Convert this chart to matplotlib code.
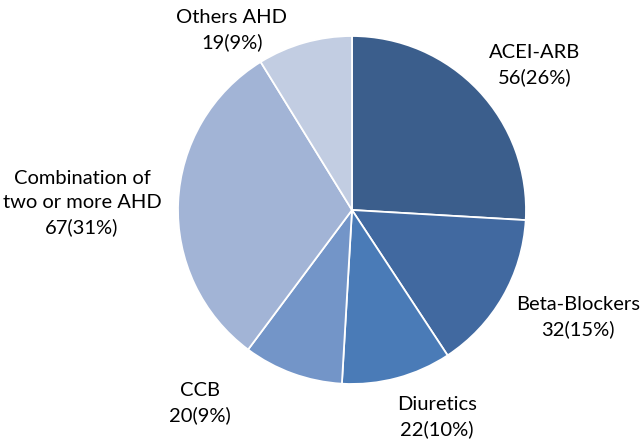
import matplotlib
matplotlib.use('Agg')
from matplotlib import pyplot as plt

# data
names = ['ACEI-ARB', 'Beta-Blockers', 'Diuretics', 'CCB',
         'Combination of\ntwo or more AHD', 'Others AHD']
counts = [56, 32, 22, 20, 67, 19]
percents = [26, 15, 10, 9, 31, 9]
colors = ['#3b5e8c', '#4169a0', '#4a7bb7', '#7395c8', '#a2b4d6', '#c2cde2']

# label centres (pie radius = 1)
label_pos = [(1.052, 0.833), (1.299, -0.615), (0.489, -1.19),
             (-0.874, -1.109), (-1.552, 0.040), (-0.690, 1.034)]

fig = plt.figure(figsize=(6.4, 4.4), dpi=100)
ax = fig.add_axes([0, 0, 1, 1])

ax.pie(counts, colors=colors, startangle=90, counterclock=False,
       radius=1.0, wedgeprops={'edgecolor': 'white', 'linewidth': 1.3})

for name, c, p, (x, y) in zip(names, counts, percents, label_pos):
  ax.text(x, y, '%s\n%d(%d%%)' % (name, c, p), ha='center', va='center',
          fontsize=14.5, family='Lato', linespacing=1.5, color='black')

ax.set_xlim(-352 / 174, 288 / 174)
ax.set_ylim(-230 / 174, 210 / 174)
ax.set_aspect('equal')
ax.axis('off')

fig.savefig('out.png', dpi=100)
plt.close()
